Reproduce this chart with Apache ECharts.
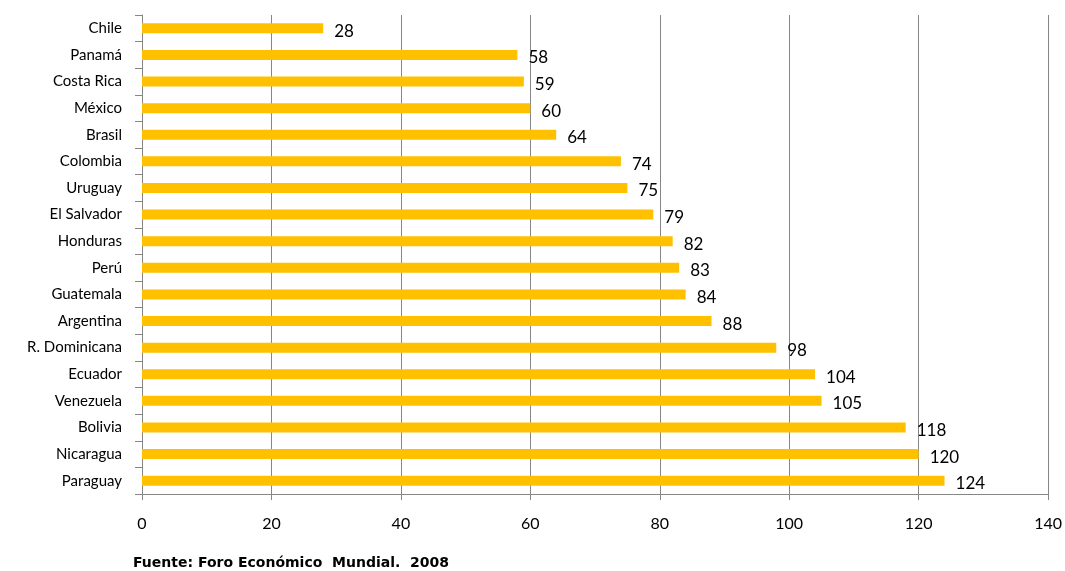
<!DOCTYPE html>
<html>
<head>
<meta charset="utf-8">
<script src="https://cdn.jsdelivr.net/npm/echarts@6/dist/echarts.min.js"></script>
<style>html,body{margin:0;padding:0;background:#fff;}#c{width:1065px;height:571px;}</style>
</head>
<body>
<div id="c"></div>
<script>
const countries = ["Chile","Panamá","Costa Rica","México","Brasil","Colombia","Uruguay","El Salvador","Honduras","Perú","Guatemala","Argentina","R. Dominicana","Ecuador","Venezuela","Bolivia","Nicaragua","Paraguay"];
const values = [28,58,59,60,64,74,75,79,82,83,84,88,98,104,105,118,120,124];
const xTicks = [0,20,40,60,80,100,120,140];
const source = "Fuente: Foro Económico  Mundial.  2008";

const font = "Lato, 'Open Sans', 'Liberation Sans', sans-serif";
const chart = echarts.init(document.getElementById('c'), null, {renderer:'canvas'});
chart.setOption({
  animation:false,
  backgroundColor:'#fff',
  grid:{left:142, right:16, top:15, bottom:77, containLabel:false},
  xAxis:{
    type:'value', min:xTicks[0], max:xTicks[xTicks.length-1], interval:20,
    axisLine:{show:true, lineStyle:{color:'#868686', width:1}},
    axisTick:{show:true, length:6, lineStyle:{color:'#868686'}},
    axisLabel:{color:'#000', fontSize:16, fontFamily:font, margin:22},
    splitLine:{show:true, lineStyle:{color:'#868686', width:1}}
  },
  yAxis:{
    type:'category', data:countries, inverse:true,
    axisLine:{show:true, lineStyle:{color:'#868686', width:1}},
    axisTick:{show:true, length:7, lineStyle:{color:'#868686'}},
    axisLabel:{color:'#000', fontSize:15, fontFamily:font, margin:20}
  },
  series:[{
    type:'bar', data:values, barWidth:10,
    itemStyle:{color:'#FFC000'},
    label:{show:true, position:'right', distance:11, offset:[0,3], color:'#000', fontSize:17, fontFamily:font}
  }],
  graphic:[{type:'text', left:133, top:556, style:{text:source, fill:'#000', font:"bold 14px 'DejaVu Sans', sans-serif"}}]
});
</script>
</body>
</html>
